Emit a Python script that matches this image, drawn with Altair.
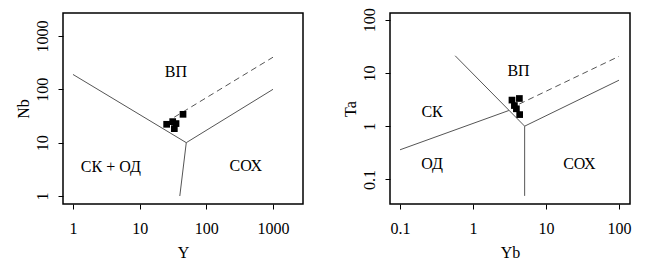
import altair as alt
import pandas as pd

# ---------- Left panel: Nb vs Y ----------
nby_seg = ["a", "a", "b", "b", "c", "c"]
nby_line_x = [1, 50, 50, 40, 50, 1000]
nby_line_y = [190, 10, 10, 1, 10, 100]
nby_dash_x = [33, 1000]
nby_dash_y = [30, 400]
nby_pts_x = [25.4, 31.3, 35.1, 33.1, 44.7]
nby_pts_y = [22.1, 24.8, 22.8, 18.3, 34.0]
nby_lab = ["ВП", "СК + ОД", "СОХ"]
nby_lab_x = [35, 3.7, 390]
nby_lab_y = [208, 3.55, 3.7]

# ---------- Right panel: Ta vs Yb ----------
tayb_seg = ["a", "a", "b", "b", "c", "c", "d", "d"]
tayb_line_x = [0.1, 3.1, 0.57, 5.1, 5.1, 5.1, 5.1, 100]
tayb_line_y = [0.36, 1.97, 21, 1, 1, 0.049, 1, 7.3]
tayb_dash_x = [4.3, 100]
tayb_dash_y = [2.6, 20.5]
tayb_pts_x = [3.42, 4.32, 3.69, 3.93, 4.36]
tayb_pts_y = [3.09, 3.31, 2.44, 2.12, 1.65]
tayb_lab = ["ВП", "СК", "ОД", "СОХ"]
tayb_lab_x = [4.2, 0.275, 0.275, 28.7]
tayb_lab_y = [11.1, 1.84, 0.198, 0.198]

FONT = "Liberation Serif"


def panel(seg, lx, ly, dx, dy, px, py, lab, labx, laby,
          xdom, ydom, xticks, yticks, xtitle, ytitle):
    lines = pd.DataFrame({"seg": seg, "x": lx, "y": ly})
    dash = pd.DataFrame({"x": dx, "y": dy})
    pts = pd.DataFrame({"x": px, "y": py})
    txt = pd.DataFrame({"t": lab, "x": labx, "y": laby})

    X = alt.X("x:Q", scale=alt.Scale(type="log", domain=xdom, nice=False),
              axis=alt.Axis(values=xticks, format="~g", title=xtitle))
    Y = alt.Y("y:Q", scale=alt.Scale(type="log", domain=ydom, nice=False),
              axis=alt.Axis(values=yticks, format="~g", title=ytitle))

    l1 = alt.Chart(lines).mark_line(color="#555555", strokeWidth=1).encode(
        x=X, y=Y, detail="seg:N", order=alt.Order("x:Q"))
    l2 = alt.Chart(dash).mark_line(color="#555555", strokeWidth=1,
                                   strokeDash=[6, 4]).encode(x=X, y=Y)
    p = alt.Chart(pts).mark_point(shape="square", filled=True, color="black",
                                  opacity=1, size=45).encode(x=X, y=Y)
    t = alt.Chart(txt).mark_text(font=FONT, fontSize=16, color="black",
                                 align="center", baseline="middle").encode(
        x=X, y=Y, text="t:N")
    return alt.layer(l1, l2, p, t).properties(width=240, height=191)


left = panel(nby_seg, nby_line_x, nby_line_y, nby_dash_x, nby_dash_y,
             nby_pts_x, nby_pts_y, nby_lab, nby_lab_x, nby_lab_y,
             [0.708, 2818], [0.708, 2698], [1, 10, 100, 1000],
             [1, 10, 100, 1000], "Y", "Nb")
right = panel(tayb_seg, tayb_line_x, tayb_line_y, tayb_dash_x, tayb_dash_y,
              tayb_pts_x, tayb_pts_y, tayb_lab, tayb_lab_x, tayb_lab_y,
              [0.0729, 141.6], [0.0345, 133.6], [0.1, 1, 10, 100],
              [0.1, 1, 10, 100], "Yb", "Ta")

chart = alt.hconcat(left, right, spacing=37).properties(
    padding={"left": 6, "top": -2, "right": 5, "bottom": 0}
).configure_view(
    stroke="black", strokeWidth=1.5
).configure_axis(
    domain=False, grid=False, tickColor="black", tickSize=5, tickWidth=1,
    labelFont=FONT, labelFontSize=16, labelColor="black",
    titleFont=FONT, titleFontSize=16, titleFontWeight="normal",
    titleColor="black", labelFlush=False, labelOverlap=False
).configure_axisLeft(
    labelAngle=270, labelAlign="center", labelBaseline="bottom",
    labelPadding=8, titlePadding=3
).configure_axisBottom(
    labelPadding=11, titlePadding=8
)

chart.save("out.html", embed_options={"renderer": "svg", "actions": False})
